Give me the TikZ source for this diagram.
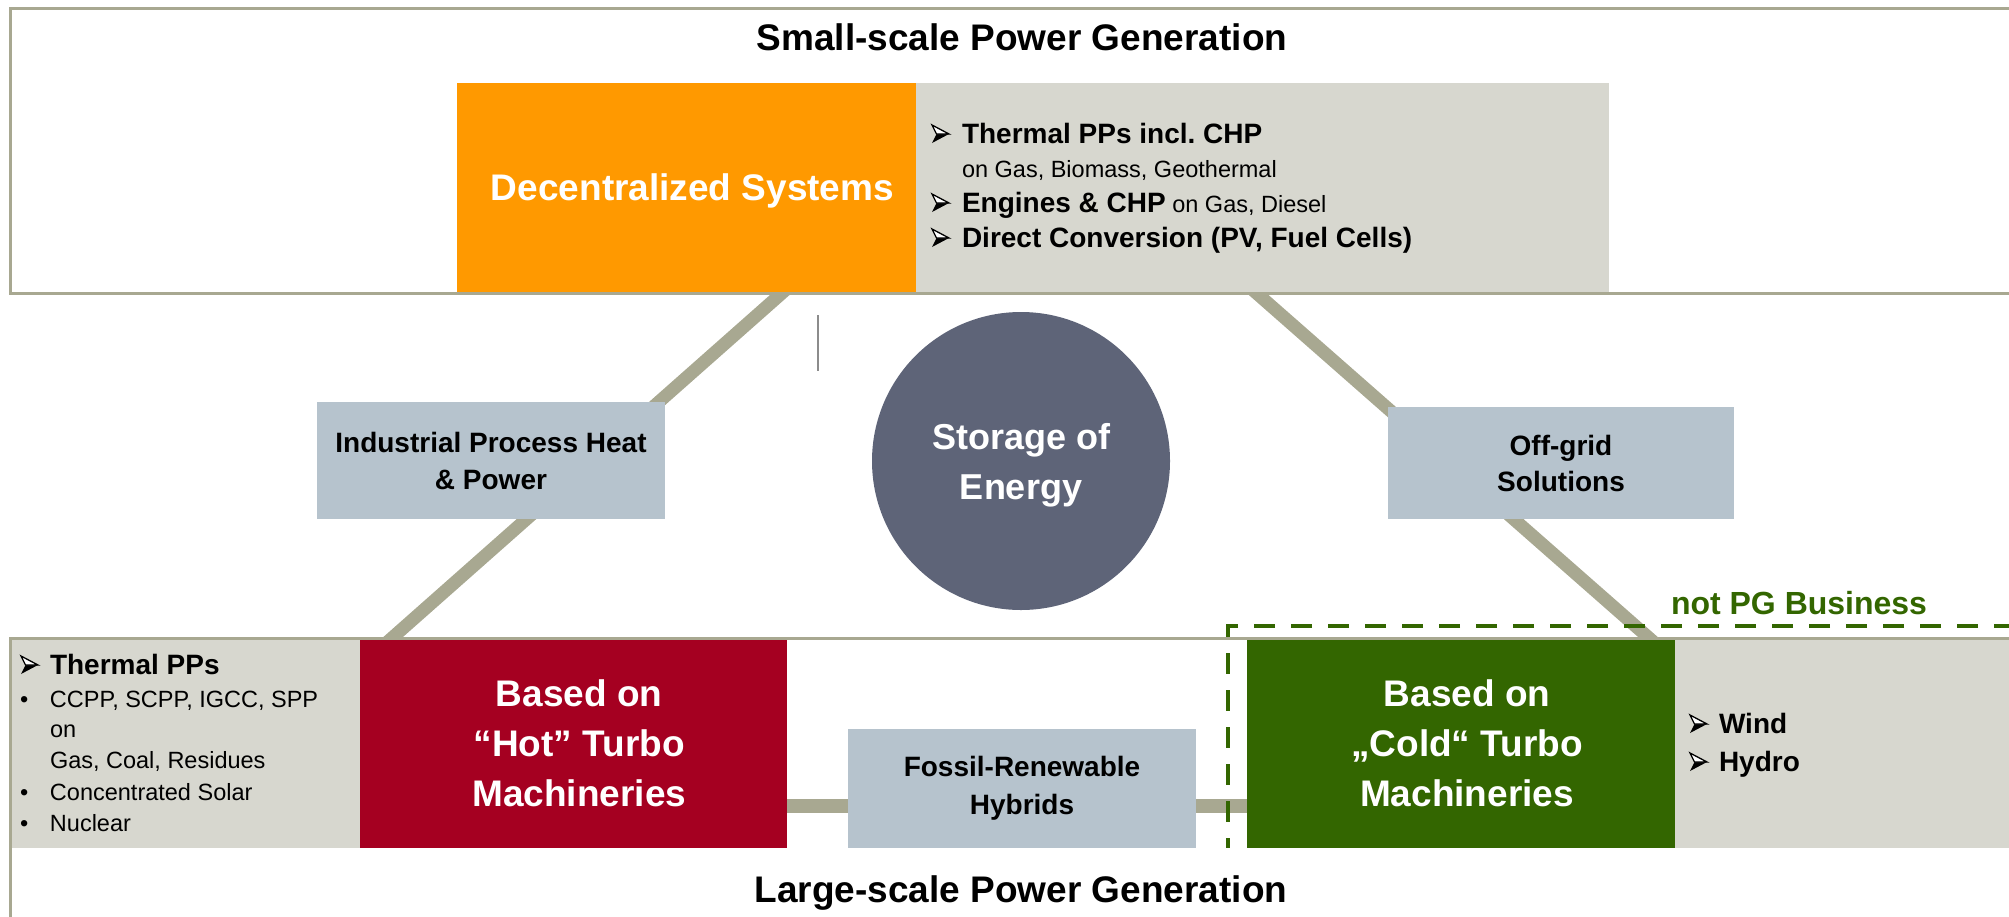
\documentclass[tikz,border=0pt]{standalone}
\usepackage{fontspec}
\setmainfont{Liberation Sans}
\usetikzlibrary{calc}

\definecolor{pgorange}{HTML}{FF9900}
\definecolor{pglight}{HTML}{D7D7CF}
\definecolor{pgframe}{HTML}{A8A891}
\definecolor{pgblue}{HTML}{B6C3CD}
\definecolor{pgslate}{HTML}{5E6478}
\definecolor{pgred}{HTML}{A50021}
\definecolor{pggreen}{HTML}{336600}

\pgfdeclarelayer{linklayer}
\pgfdeclarelayer{framelayer}
\pgfsetlayers{linklayer,framelayer,main}

\frenchspacing
% bold list heading size
\newcommand{\headb}{\bfseries\fontsize{28}{34}\selectfont}
% round bullet
\newcommand{\dotbul}{\makebox[30pt][l]{•}}

\begin{document}
\begin{tikzpicture}[x=1pt,y=-1pt,
  box/.style={rectangle, inner sep=0pt, outer sep=0pt, align=center},
  link/.style={draw=pgframe, line width=13pt},
  frame/.style={draw=pgframe, line width=3pt, line join=miter},
  bigwhite/.style={text=white, align=center, inner sep=0pt, font=\bfseries\fontsize{37}{50}\selectfont},
  midblack/.style={text=black, font=\bfseries\fontsize{28}{37}\selectfont},
  listline/.style={anchor=base west, inner sep=0pt, outer sep=0pt, font=\fontsize{23.5}{28}\selectfont},
  titletext/.style={anchor=base, inner sep=0pt, font=\bfseries\fontsize{37}{40}\selectfont},
  % three-d arrowhead bullet, sitting on the baseline
  arrowhead/.pic={
    \fill[black] (4.5,-9) -- (17,-9) -- (0,0) -- cycle;
    \draw[black, fill=white, line width=1.3pt, line join=miter] (0,-18) -- (17,-9) -- (4.5,-9) -- cycle;
  },
]
\useasboundingbox (0,0) rectangle (2009,916);

% ---- coloured boxes ----
\node[box, fill=pgorange, minimum width=459pt, minimum height=208.5pt] (dec) at (686.5,187.25) {};
\node[bigwhite, text depth=0pt] (dectext) at ($(dec)+(6,0)$) {Decentralized Systems};
\node[box, fill=pglight, minimum width=693pt, minimum height=208.5pt] (declist) at (1262.5,187.25) {};

\node[box, fill=pglight, minimum width=348pt, minimum height=208.5pt] (hotlist) at (186,743.75) {};
\node[box, fill=pgred, minimum width=426.5pt, minimum height=208.5pt] (hot) at (573.25,743.75) {};
\node[bigwhite] (hottext) at ($(hot)+(6,0)$) {Based on\\“Hot” Turbo\\Machineries};
\node[box, fill=pgblue, minimum width=348pt, minimum height=119pt, midblack, font=\bfseries\fontsize{28}{38}\selectfont] (hybrid) at (1022,788.5) {Fossil-Renewable\\Hybrids};
\node[box, fill=pggreen, minimum width=428pt, minimum height=208.5pt] (cold) at (1461,743.75) {};
\node[bigwhite] (coldtext) at ($(cold)+(6,0)$) {Based on\\„Cold“ Turbo\\Machineries};
\node[box, fill=pglight, minimum width=340pt, minimum height=208.5pt] (coldlist) at (1845,743.75) {};

\node[box, fill=pgblue, minimum width=348pt, minimum height=117pt, midblack] (ind) at (491,460.5) {Industrial Process Heat\\\& Power};
\node[box, fill=pgblue, minimum width=346pt, minimum height=112pt, midblack, font=\bfseries\fontsize{28}{36}\selectfont] (off) at (1561,463) {Off-grid\\Solutions};

\node[circle, fill=pgslate, minimum size=298pt, inner sep=0pt, outer sep=0pt, bigwhite, font=\bfseries\fontsize{36}{50}\selectfont, text depth=0pt] (store) at (1021,461) {Storage of\\Energy};

% ---- connectors behind the boxes ----
\begin{pgfonlayer}{linklayer}
  \draw[link] ($(dec.south west)+(338,-10)$) -- ($(hot.north west)+(19,10)$);
  \draw[link] ($(declist.south west)+(329,-8.5)$) -- ($(cold.north west)+(414,9)$);
  \coordinate (hy) at (0,806);
  \draw[link, line width=14pt] (hot.east |- hy) -- (cold.west |- hy);
\end{pgfonlayer}

% ---- frames of the two levels ----
\begin{pgfonlayer}{framelayer}
  \draw[frame] (2015,8.5) -- (10.5,8.5) -- (10.5,293) -- (2015,293);
  \draw[frame] (2015,638) -- (10.5,638) -- (10.5,925);
\end{pgfonlayer}

% thin stroke left of the storage circle
\draw[line width=1.2pt, color=black!45] (818,315) -- (818,371);

% ---- "not PG Business" area ----
\draw[pggreen, line width=4.5pt, dash pattern=on 21pt off 16pt] (2015,626) -- (1228,626) -- (1228,848);
\node[anchor=base, inner sep=0pt, text=pggreen, font=\bfseries\fontsize{32}{36}\selectfont] (notpg) at (1799,614) {not PG Business};

% ---- titles ----
\node[titletext] (smalltitle) at (1022,50) {Small-scale Power Generation};
\node[titletext] (largetitle) at (1021,902) {Large-scale Power Generation};

% ---- small-scale list ----
\pic at (932,143) {arrowhead};
\node[listline] (d1) at (962,143) {\headb Thermal PPs incl. CHP};
\node[listline] (d2) at (962,177) {on Gas, Biomass, Geothermal};
\pic at (932,212) {arrowhead};
\node[listline] (d3) at (962,212) {{\headb Engines \& CHP} on Gas, Diesel};
\pic at (932,247) {arrowhead};
\node[listline] (d4) at (962,247) {\headb Direct Conversion (PV, Fuel Cells)};

% ---- hot turbo list ----
\pic at (21,674) {arrowhead};
\node[listline] (h1) at (50,674) {\headb Thermal PPs};
\node[listline] (h2) at (20,707) {\dotbul CCPP, SCPP, IGCC, SPP};
\node[listline] (h3) at (50,737) {on};
\node[listline] (h4) at (50,768) {Gas, Coal, Residues};
\node[listline] (h5) at (20,800) {\dotbul Concentrated Solar};
\node[listline] (h6) at (20,831) {\dotbul Nuclear};

% ---- cold turbo list ----
\pic at (1690,733) {arrowhead};
\node[listline] (c1) at (1719,733) {\headb Wind};
\pic at (1690,771) {arrowhead};
\node[listline] (c2) at (1719,771) {\headb Hydro};
\end{tikzpicture}
\end{document}
